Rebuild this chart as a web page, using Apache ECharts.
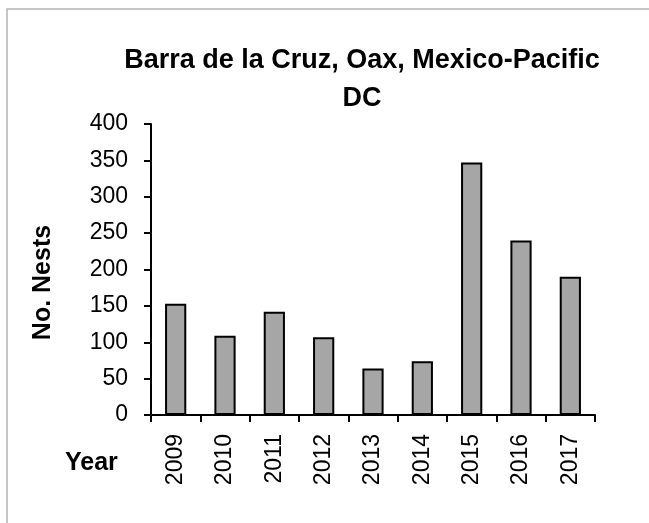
<!DOCTYPE html>
<html>
<head>
<meta charset="utf-8">
<script src="https://cdn.jsdelivr.net/npm/echarts@6/dist/echarts.min.js"></script>
<style>
  html, body { margin: 0; padding: 0; background: #fff; }
  #chart { width: 649px; height: 523px; }
</style>
</head>
<body>
<div id="chart"></div>
<script>
// nests per season
const years = ['2009', '2010', '2011', '2012', '2013', '2014', '2015', '2016', '2017'];
const nests = [153, 109, 142, 107, 64, 74, 347, 240, 190];
const yTicks = [0, 50, 100, 150, 200, 250, 300, 350, 400];

const font = '"Liberation Sans", Arial, sans-serif';

const chart = echarts.init(document.getElementById('chart'));

const option = {
  backgroundColor: '#fff',
  animation: false,
  title: {
    text: 'Barra de la Cruz, Oax, Mexico-Pacific\nDC',
    left: 357,
    top: 37,
    textAlign: 'center',
    textStyle: {
      fontFamily: font,
      fontWeight: 'bold',
      fontSize: 27,
      lineHeight: 38,
      color: '#000'
    }
  },
  graphic: [
    {
      type: 'rect',
      shape: { x: 7, y: 9, width: 700, height: 600 },
      style: { fill: 'none', stroke: '#b4b4b4', lineWidth: 1.5 },
      silent: true
    },
    {
      type: 'text',
      left: 65,
      top: 451,
      style: {
        text: 'Year',
        font: 'bold 25px ' + font,
        fill: '#000'
      }
    }
  ],
  grid: {
    left: 151,
    right: 54,
    top: 124,
    bottom: 108
  },
  xAxis: {
    type: 'category',
    data: years,
    boundaryGap: true,
    axisLine: { lineStyle: { color: '#000', width: 2 } },
    axisTick: { show: true, alignWithLabel: false, length: 7, lineStyle: { color: '#000', width: 2 } },
    axisLabel: {
      rotate: 90,
      margin: 19,
      fontFamily: font,
      fontSize: 23,
      color: '#000'
    },
    splitLine: { show: false }
  },
  yAxis: {
    type: 'value',
    min: yTicks[0],
    max: yTicks[yTicks.length - 1],
    interval: 50,
    name: 'No. Nests',
    nameLocation: 'middle',
    nameRotate: 90,
    nameGap: 95,
    nameTextStyle: {
      fontFamily: font,
      fontWeight: 'bold',
      fontSize: 25,
      color: '#000',
      padding: [0, 26, 0, 0]
    },
    axisLine: { show: true, lineStyle: { color: '#000', width: 2 } },
    axisTick: { show: true, length: 7, lineStyle: { color: '#000', width: 2 } },
    axisLabel: {
      margin: 23,
      fontFamily: font,
      fontSize: 23,
      color: '#000'
    },
    splitLine: { show: false }
  },
  series: [
    {
      type: 'bar',
      data: nests,
      barWidth: '43%',
      itemStyle: {
        color: '#a6a6a6',
        borderColor: '#000',
        borderWidth: 2
      }
    }
  ]
};

chart.setOption(option);
</script>
</body>
</html>
